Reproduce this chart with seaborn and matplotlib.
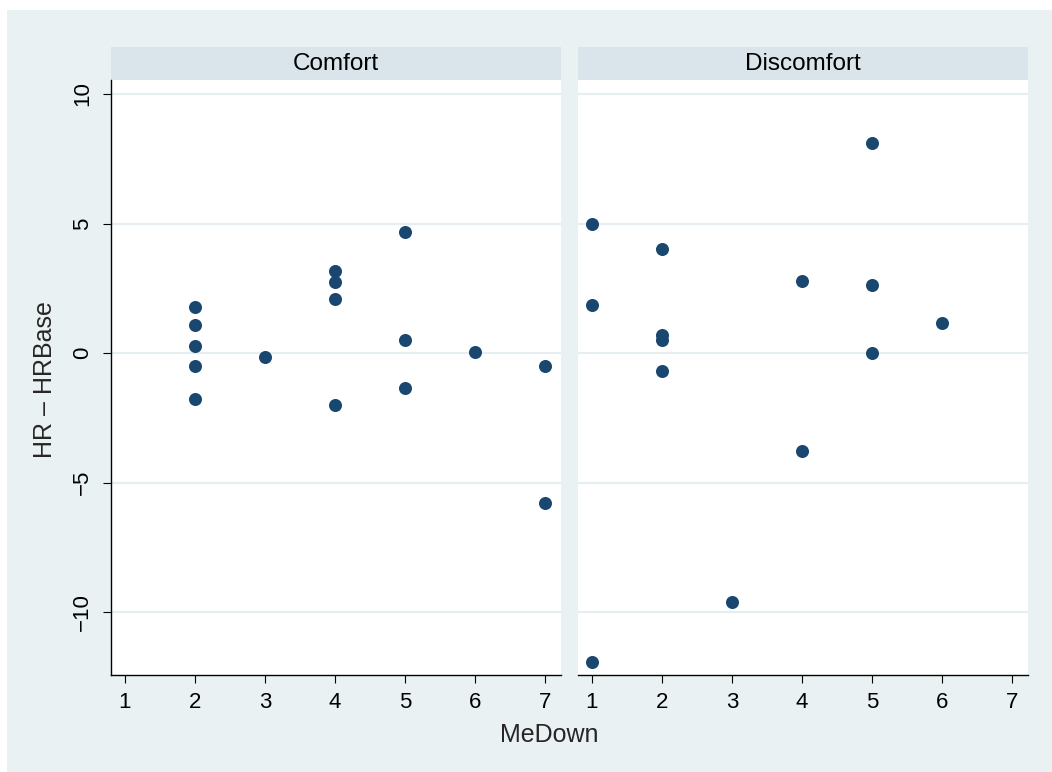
import pandas as pd
import seaborn as sns
import matplotlib
matplotlib.use('Agg')
import matplotlib.pyplot as plt
from matplotlib.patches import Rectangle

# values
comfort_x = [2, 2, 2, 2, 2, 3, 4, 4, 4, 4, 5, 5, 5, 6, 7, 7]
comfort_y = [1.79, 1.07, 0.28, -0.50, -1.76, -0.17, 3.17, 2.73, 2.09, -2.01,
             4.67, 0.52, -1.35, 0.03, -0.51, -5.78]
discomfort_x = [1, 1, 1, 2, 2, 2, 2, 3, 4, 4, 5, 5, 5, 6]
discomfort_y = [5.0, 1.86, -11.93, 4.0, 0.69, 0.52, -0.71, -9.6, 2.77, -3.78,
                8.1, 2.64, 0.0, 1.15]
panels = ['Comfort', 'Discomfort']
x_ticks = [1, 2, 3, 4, 5, 6, 7]
y_ticks = [-10, -5, 0, 5, 10]
y_tick_labels = ['\u221210', '\u22125', '0', '5', '10']

df = pd.DataFrame({
    'MeDown': comfort_x + discomfort_x,
    'HRdiff': comfort_y + discomfort_y,
    'group': [panels[0]] * len(comfort_x) + [panels[1]] * len(discomfort_x),
})

sns.set_theme(style='white')
plt.rcParams['font.family'] = ['Liberation Sans', 'DejaVu Sans']

bg = '#EAF1F3'
strip = '#D9E5EA'
navy = '#1A476F'
tick_fs = 16

g = sns.FacetGrid(df, col='group', col_order=panels, sharey=True, sharex=True)
g.map_dataframe(sns.scatterplot, x='MeDown', y='HRdiff', color=navy,
                s=88, linewidth=0)

fig = g.figure
fig.set_size_inches(10.52, 7.72)
fig.set_dpi(100)
fig.patch.set_facecolor('white')
# light outer panel like the Stata background
fig.patches.append(Rectangle((7 / 1052, 0), 1, 1 - 10 / 772,
                             transform=fig.transFigure, facecolor=bg,
                             edgecolor='none', zorder=-10))

W, H = 1052, 772
lefts = [111, 578]
for ax, name, left in zip(g.axes.flat, panels, lefts):
    ax.set_position([left / W, 1 - 675 / H, 450 / W, 595 / H])
    ax.set_facecolor('white')
    ax.set_xlim(0.8, 7.23)
    ax.set_ylim(-12.43, 10.54)
    ax.set_xticks(x_ticks)
    ax.set_xticklabels([str(v) for v in x_ticks], fontsize=tick_fs)
    ax.set_yticks(y_ticks)
    ax.set_yticklabels(y_tick_labels, fontsize=tick_fs, rotation=90,
                       va='center')
    ax.grid(axis='y', color='#E6EEF1', lw=1.6)
    ax.set_axisbelow(True)
    ax.set_xlabel('')
    ax.set_ylabel('')
    ax.set_title('')
    for side in ['top', 'right', 'left']:
        ax.spines[side].set_visible(False)
    ax.spines['bottom'].set_color('black')
    ax.spines['bottom'].set_linewidth(1.0)
    ax.tick_params(axis='x', bottom=True, length=6, width=0.8, pad=6,
                   colors='black')
    # strip on top of the panel
    ax.add_patch(Rectangle((0, 1), 1, 33 / 595, transform=ax.transAxes,
                           facecolor=strip, edgecolor='none', clip_on=False))
    ax.text(0.5, 1 + 16.5 / 595, name, transform=ax.transAxes, ha='center',
            va='center', fontsize=17.5, color='black')

ax0, ax1 = g.axes.flat
ax0.spines['left'].set_visible(True)
ax0.spines['left'].set_color('black')
ax0.spines['left'].set_linewidth(1.0)
ax0.tick_params(axis='y', left=True, length=6, width=0.8, pad=7,
                colors='black')
ax1.tick_params(axis='y', left=False, labelleft=False)

fig.text(45 / W, 1 - 380 / H, 'HR \u2013 HRBase', rotation=90, ha='center',
         va='center', fontsize=18)
fig.text(549 / W, 1 - 735 / H, 'MeDown', ha='center', va='center',
         fontsize=18)

fig.savefig('out.png', dpi=100, facecolor=fig.get_facecolor())
